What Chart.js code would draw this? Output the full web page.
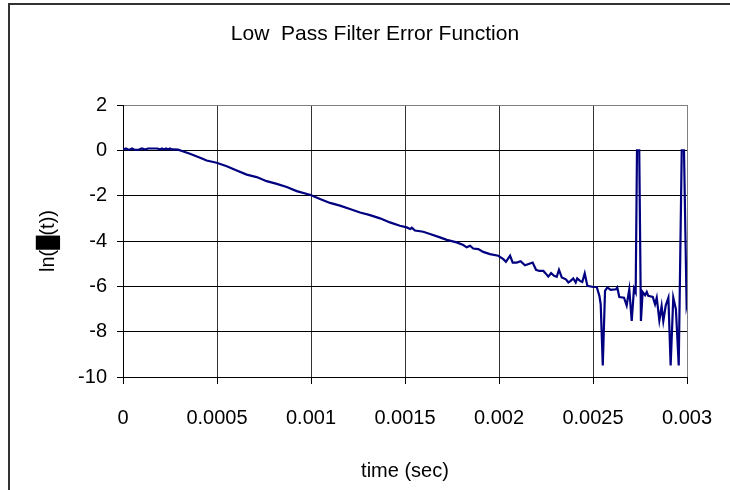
<!DOCTYPE html>
<html lang="en">
<head>
<meta charset="UTF-8">
<title>Low Pass Filter Error Function</title>
<script src="https://cdn.jsdelivr.net/npm/chart.js"></script>
<style>
  body { margin: 0; background: #fff; }
  canvas { display: block; }
</style>
</head>
<body>
<canvas id="errChart" width="730" height="490"></canvas>
<script>
// time (sec) and ln(e(t))
const times = [
  0, 0.000016, 0.000032, 0.000048, 0.000064, 0.000085, 0.000101, 0.000117, 0.000133,
  0.000181, 0.000197, 0.000207, 0.000218, 0.000229, 0.00024, 0.00025, 0.000261, 0.000293,
  0.000321, 0.000356, 0.00041, 0.000445, 0.000498, 0.000552, 0.000605, 0.000658, 0.000711,
  0.000764, 0.000818, 0.000871, 0.000924, 0.000998, 0.001048, 0.001101, 0.001154, 0.001207,
  0.001261, 0.001314, 0.001367, 0.00142, 0.001473, 0.001509, 0.001527, 0.001536, 0.001553,
  0.00158, 0.001597, 0.001633, 0.001686, 0.001722, 0.001775, 0.00181, 0.001828, 0.001846,
  0.001863, 0.00189, 0.001916, 0.001952, 0.001996, 0.002023, 0.002037, 0.002059, 0.002073,
  0.002094, 0.002115, 0.002138, 0.002165, 0.002179, 0.002197, 0.002214, 0.002236, 0.002248,
  0.002262, 0.002277, 0.002293, 0.002307, 0.002319, 0.002334, 0.002356, 0.002369, 0.002381,
  0.002395, 0.002408, 0.002416, 0.002431, 0.002443, 0.002456, 0.00247, 0.002502, 0.00252,
  0.002534, 0.002541, 0.002552, 0.002564, 0.002576, 0.002594, 0.002622, 0.002629, 0.00264,
  0.002665, 0.002679, 0.002693, 0.002706, 0.002718, 0.002727, 0.002734, 0.002746, 0.002755,
  0.002764, 0.002777, 0.002786, 0.002794, 0.002818, 0.00283, 0.002839, 0.002853, 0.002865,
  0.002874, 0.002887, 0.002901, 0.002913, 0.002927, 0.002941, 0.002956, 0.002972, 0.002984,
  0.002998, 0.003007
];
const lnError = [
  0.03, 0.08, 0.02, 0.08, 0.02, 0.03, 0.08, 0.03, 0.08,
  0.08, 0.04, 0.08, 0.04, 0.08, 0.04, 0.08, 0.04, 0.03,
  -0.05, -0.15, -0.33, -0.45, -0.55, -0.7, -0.89, -1.07, -1.18,
  -1.36, -1.48, -1.62, -1.8, -1.97, -2.15, -2.32, -2.44, -2.59,
  -2.74, -2.86, -3.0, -3.18, -3.33, -3.4, -3.47, -3.41, -3.54,
  -3.57, -3.59, -3.69, -3.84, -3.95, -4.06, -4.18, -4.28, -4.21,
  -4.33, -4.36, -4.48, -4.58, -4.65, -4.8, -4.92, -4.65, -4.95,
  -4.95, -4.89, -5.07, -4.99, -4.95, -5.27, -5.32, -5.32, -5.43,
  -5.57, -5.42, -5.54, -5.58, -5.27, -5.61, -5.69, -5.83, -5.76,
  -5.65, -5.83, -5.65, -5.76, -5.81, -5.43, -5.98, -6.03, -6.03,
  -6.42, -6.79, -9.49, -6.2, -6.05, -6.16, -6.13, -6.05, -6.47,
  -6.5, -6.84, -6.13, -7.53, -6.1, -6.27, 0.0, 0.0, -7.53,
  -6.25, -6.39, -6.25, -6.42, -6.47, -6.79, -6.5, -7.5, -6.87,
  -7.53, -6.84, -6.5, -9.49, -6.5, -7.01, -9.49, 0.0, 0.0,
  -6.84, -6.47
];
const xTicks = [0, 0.0005, 0.001, 0.0015, 0.002, 0.0025, 0.003];
const xTickLabels = ['0', '0.0005', '0.001', '0.0015', '0.002', '0.0025', '0.003'];
const yTicks = [-10, -8, -6, -4, -2, 0, 2];
const yTickLabels = ['-10', '-8', '-6', '-4', '-2', '0', '2'];

const font = "'Liberation Sans', Arial, sans-serif";

// outer frame and chart title
const frame = {
  id: 'frame',
  beforeDraw(chart) {
    const c = chart.ctx;
    c.save();
    c.fillStyle = '#fff';
    c.fillRect(0, 0, chart.width, chart.height);
    c.strokeStyle = '#333';
    c.lineWidth = 2;
    c.beginPath();
    c.moveTo(9, chart.height);
    c.lineTo(9, 4);
    c.lineTo(chart.width, 4);
    c.stroke();
    c.restore();
  },
  afterDraw(chart) {
    const c = chart.ctx;
    c.save();
    c.fillStyle = '#000';
    c.font = '21px ' + font;
    c.textAlign = 'center';
    c.textBaseline = 'middle';
    c.fillText('Low  Pass Filter Error Function', 375, 34);
    c.restore();
  }
};

new Chart(document.getElementById('errChart'), {
  type: 'scatter',
  data: {
    datasets: [{
      data: times.map((t, i) => ({ x: t, y: lnError[i] })),
      showLine: true,
      borderColor: '#000080',
      borderWidth: 2.2,
      pointRadius: 0,
      tension: 0
    }]
  },
  plugins: [frame],
  options: {
    responsive: false,
    animation: false,
    layout: { padding: { left: 10, right: 43, top: 105, bottom: 0 } },
    plugins: { legend: { display: false }, tooltip: { enabled: false } },
    scales: {
      x: {
        type: 'linear',
        min: 0, max: 0.003,
        afterBuildTicks: s => { s.ticks = xTicks.map(v => ({ value: v })); },
        afterFit: s => { s.height = 113; s.paddingLeft = 0; s.paddingRight = 0; },
        ticks: {
          color: '#000', font: { family: font, size: 20 }, padding: 22, maxRotation: 0,
          callback: (v, i) => xTickLabels[i]
        },
        grid: {
          color: ctx => ctx.tick && ctx.tick.value === 0.003 ? '#808080' : '#333',
          tickColor: '#000', tickLength: 7, lineWidth: 1
        },
        border: { color: '#000', width: 1 },
        title: {
          display: true, text: 'time (sec)', color: '#000',
          font: { family: font, size: 20 }, padding: { top: 0, bottom: 7 }
        }
      },
      y: {
        min: -10, max: 2,
        afterBuildTicks: s => { s.ticks = yTicks.map(v => ({ value: v })); },
        afterFit: s => { s.width = 113; s.paddingTop = 0; s.paddingBottom = 0; },
        ticks: {
          color: '#000', font: { family: font, size: 20 }, padding: 10,
          callback: (v, i) => yTickLabels[i]
        },
        grid: {
          color: ctx => ctx.tick && ctx.tick.value === 2 ? '#808080' : '#000',
          tickColor: '#000', tickLength: 6, lineWidth: 1
        },
        border: { color: '#000', width: 1 },
        title: {
          display: true, text: 'ln(\u2588(t))', color: '#000',
          font: { family: font, size: 20 }, padding: { top: 26, bottom: 0 }
        }
      }
    }
  }
});
</script>
</body>
</html>
